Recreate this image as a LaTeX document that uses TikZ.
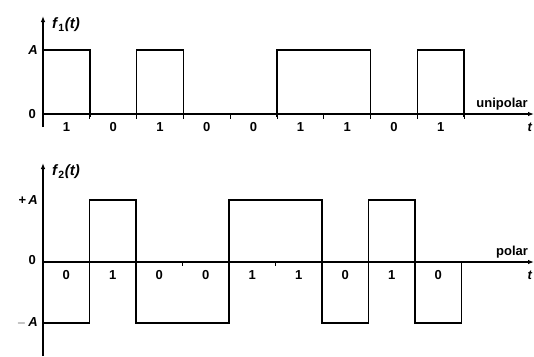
\documentclass[tikz,border=0pt]{standalone}
\usepackage{fontspec}
\setmainfont{Liberation Sans}
\usetikzlibrary{arrows.meta,positioning}

\tikzset{
  axis/.style={line width=1.1pt, -{Latex[length=6pt,width=4.5pt]}},
  wave/.style={line width=1.7pt, line join=miter},
  bit/.style={font=\bfseries\fontsize{13}{13}\selectfont, inner sep=0pt},
  lbl/.style={font=\bfseries\fontsize{13}{13}\selectfont, inner sep=1pt},
  flbl/.style={font=\bfseries\fontsize{15}{15}\selectfont, inner sep=1pt, anchor=west}
}

\begin{document}
\begin{tikzpicture}[x=1pt, y=-1pt]
      \useasboundingbox (0,0) rectangle (534,356);

      % unipolar
      \coordinate (o1) at (43,114);
      \coordinate (y1b) at (43,127);
      \coordinate (y1t) at (43,16);
      \coordinate (x1e) at (534,114);
      \draw[axis] (y1b) -- (y1t);
      \draw[axis] (o1) -- (x1e);
      \foreach \k in {1,...,9}
        \draw[line width=1pt] ({43+\k*46.8},114) -- ({43+\k*46.8},118.5);
      \draw[wave] (43,114) -- (43,50) -- (89.8,50) -- (89.8,117)
        (136.6,117) -- (136.6,50) -- (183.4,50) -- (183.4,117)
        (277,117) -- (277,50) -- (370.6,50) -- (370.6,117)
        (417.4,117) -- (417.4,50) -- (464.2,50) -- (464.2,117);
      \foreach \b [count=\i] in {1,0,1,0,0,1,1,0,1}
        \node[bit] (u\i) at ({43+(\i-0.5)*46.8},127) {\b};
      \node[flbl] (f1) at (51,25) {\textit{f}$_{\mathbf 1}$\textit{(t)}};
      \node[lbl, anchor=east] (ua) at (39,50) {\textit{A}};
      \node[lbl, anchor=east] (uz) at (37,114) {0};
      \node[lbl] (uni) at (502,104) {unipolar};
      \node[lbl] (t1) at (530,127) {\textit{t}};

      % polar
      \coordinate (o2) at (43,262);
      \coordinate (y2b) at (43,356);
      \coordinate (y2t) at (43,163);
      \coordinate (x2e) at (534,262);
      \draw[axis] (y2b) -- (y2t);
      \draw[axis] (o2) -- (x2e);
      \foreach \k in {3,5}
        \draw[line width=1pt] ({43+\k*46.5},262) -- ({43+\k*46.5},266);
      \draw[wave] (43,323) -- (89.5,323) -- (89.5,200) -- (136,200) -- (136,323)
        -- (229,323) -- (229,200) -- (322,200) -- (322,323) -- (368.5,323)
        -- (368.5,200) -- (415,200) -- (415,323) -- (461.5,323) -- (461.5,262);
      \foreach \b [count=\i] in {0,1,0,0,1,1,0,1,0}
        \node[bit] (p\i) at ({43+(\i-0.5)*46.5},275) {\b};
      \node[flbl] (f2) at (51,172) {\textit{f}$_{\mathbf 2}$\textit{(t)}};
      \node[lbl, anchor=east] (pa) at (39,200) {+\,\textit{A}};
      \node[lbl, anchor=east] (pz) at (37,260) {0};
      \node[lbl, anchor=east] (pm) at (39,323) {$-$\,\textit{A}};
      \node[lbl] (pol) at (512,252) {polar};
      \node[lbl] (t2) at (530,275) {\textit{t}};
\end{tikzpicture}
\end{document}
